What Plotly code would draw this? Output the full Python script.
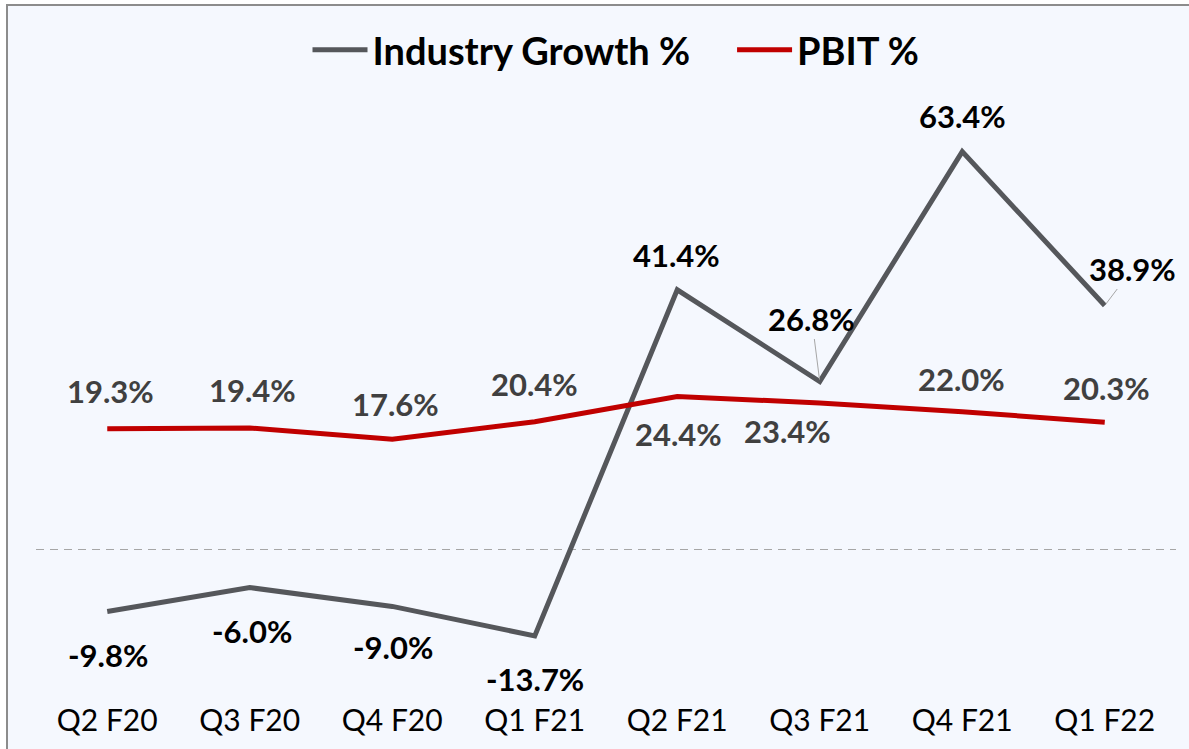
import plotly.graph_objects as go

categories = ["Q2 F20", "Q3 F20", "Q4 F20", "Q1 F21", "Q2 F21", "Q3 F21", "Q4 F21", "Q1 F22"]
industry_growth = [-9.8, -6.0, -9.0, -13.7, 41.4, 26.8, 63.4, 38.9]
pbit = [19.3, 19.4, 17.6, 20.4, 24.4, 23.4, 22.0, 20.3]

# label offsets in pixels (dx, dy) relative to the point; positive dy = up
ind_offsets = [(1, -44), (2, -43), (1, -41), (0, -43), (-1, 35), (-8, 63), (0, 36), (28, 37)]
ind_leader = [False, False, False, False, False, True, False, True]
pbit_offsets = [(3, 38), (3, 38), (3, 35), (0, 38), (1, -37), (-32, -28), (-1, 33), (2, 34)]

GRAY = "#55575B"
RED = "#C00000"
FONT = "Lato"
NB = "\u00a0"

fig = go.Figure()
fig.add_trace(go.Scatter(x=categories, y=industry_growth, mode="lines",
                         name="Industry Growth %" + NB * 4,
                         line=dict(color=GRAY, width=5)))
fig.add_trace(go.Scatter(x=categories, y=pbit, mode="lines", name="PBIT %",
                         line=dict(color=RED, width=5)))

annotations = []
for c, v, (dx, dy), lead in zip(categories, industry_growth, ind_offsets, ind_leader):
    txt = f"{v:.1f}%"
    if lead:
        annotations.append(dict(x=c, y=v, xref="x", yref="y", text=txt, showarrow=True,
                                arrowhead=0, arrowwidth=1, arrowcolor="#A6A6A6",
                                ax=dx, ay=-dy, standoff=2,
                                font=dict(family=FONT, size=31, color="#000000", weight="bold")))
    else:
        annotations.append(dict(x=c, y=v, xref="x", yref="y", text=txt, showarrow=False,
                                xshift=dx, yshift=dy,
                                font=dict(family=FONT, size=31, color="#000000", weight="bold")))
for c, v, (dx, dy) in zip(categories, pbit, pbit_offsets):
    annotations.append(dict(x=c, y=v, xref="x", yref="y", text=f"{v:.1f}%", showarrow=False,
                            xshift=dx, yshift=dy,
                            font=dict(family=FONT, size=31, color="#404040", weight="bold")))

# plot area: x 36..1176, y 80..700 px
L, R, T, B = 36, 13, 80, 49
W, H = 1189, 749
pw, ph = W - L - R, H - T - B
def px_x(p):
    return (p - L) / pw
def px_y(p):
    return (H - B - p) / ph

fig.update_layout(
    width=W, height=H,
    margin=dict(l=L, r=R, t=T, b=B, autoexpand=False),
    paper_bgcolor="#FFFFFF",
    plot_bgcolor="rgba(0,0,0,0)",
    font=dict(family=FONT, color="#000000"),
    showlegend=True,
    legend=dict(orientation="h", x=px_x(616), xanchor="center", y=px_y(50), yanchor="middle",
                font=dict(family=FONT, size=38, color="#000000", weight="bold"),
                bgcolor="rgba(0,0,0,0)", itemwidth=55, traceorder="normal"),
    xaxis=dict(range=[-0.5, 7.5], showgrid=False, showline=False, zeroline=False, ticks="",
               tickfont=dict(family=FONT, size=30, color="#000000"), automargin=False),
    yaxis=dict(range=[-23.9, 74.8], tickvals=[0], showticklabels=False, showgrid=True,
               gridcolor="#A6A6A6", gridwidth=1, griddash="8px,6px", zeroline=False,
               showline=False, automargin=False),
    annotations=annotations,
    shapes=[dict(type="rect", xref="paper", yref="paper", layer="below",
                 x0=px_x(7), x1=px_x(1200), y0=px_y(760), y1=px_y(5),
                 fillcolor="#F5F8FE", line=dict(color="#8C8C8C", width=2))],
)

fig.write_html("out.html", config={"displayModeBar": False},
               post_script="document.body.style.margin='0';")
